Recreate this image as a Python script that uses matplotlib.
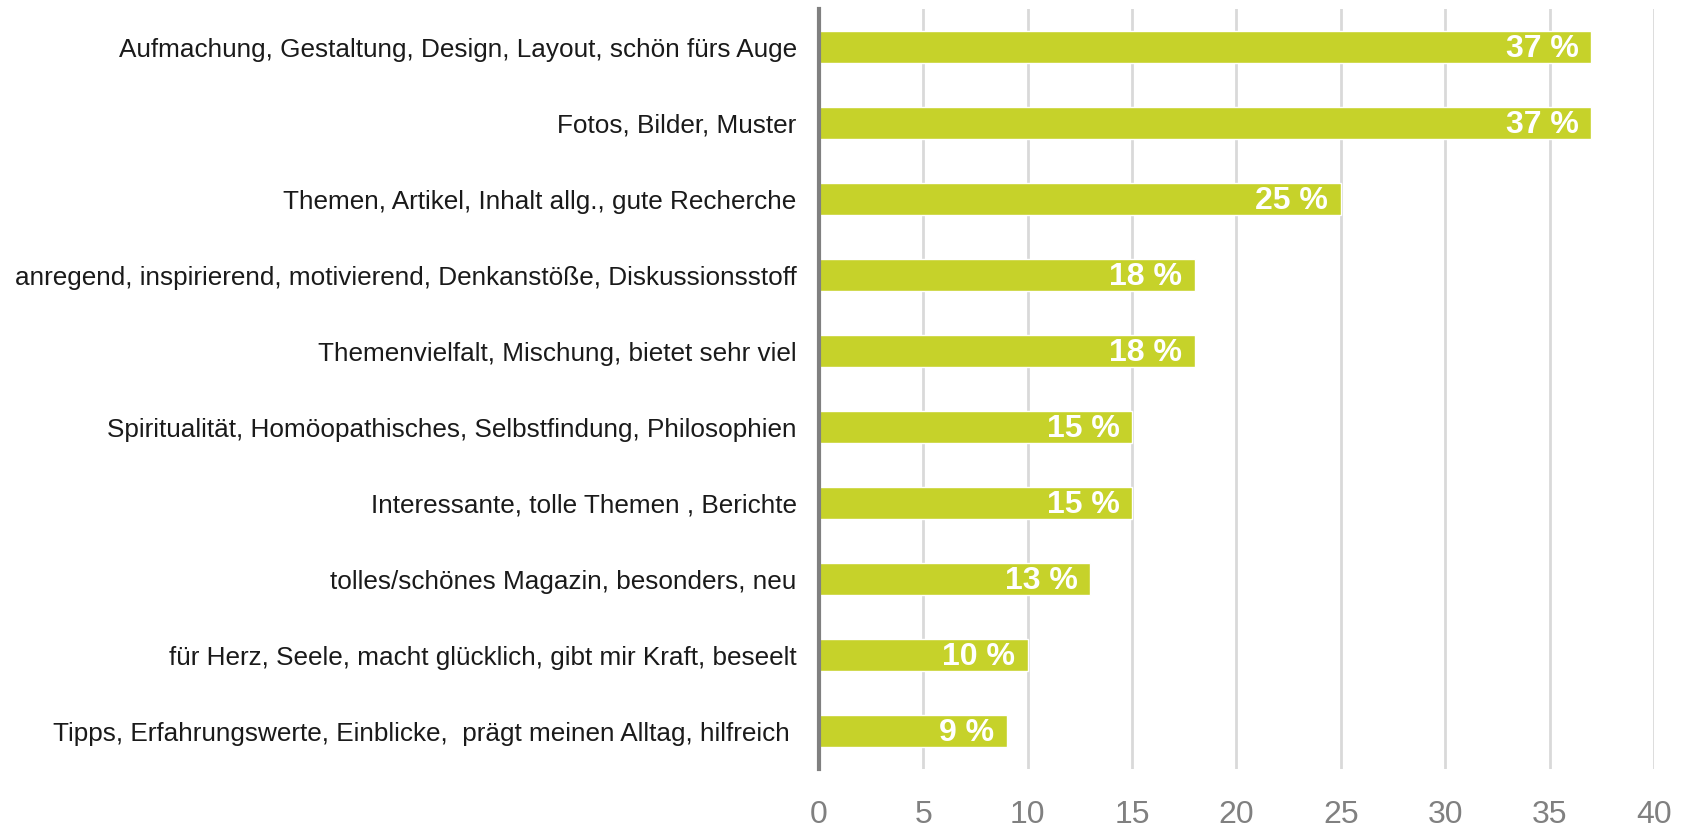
import matplotlib.pyplot as plt
from matplotlib import font_manager

# Kategorien und Werte (Prozent)
kategorien = [
    "Aufmachung, Gestaltung, Design, Layout, schön fürs Auge",
    "Fotos, Bilder, Muster",
    "Themen, Artikel, Inhalt allg., gute Recherche",
    "anregend, inspirierend, motivierend, Denkanstöße, Diskussionsstoff",
    "Themenvielfalt, Mischung, bietet sehr viel",
    "Spiritualität, Homöopathisches, Selbstfindung, Philosophien",
    "Interessante, tolle Themen , Berichte",
    "tolles/schönes Magazin, besonders, neu",
    "für Herz, Seele, macht glücklich, gibt mir Kraft, beseelt",
    "Tipps, Erfahrungswerte, Einblicke,  prägt meinen Alltag, hilfreich ",
]
werte = [37, 37, 25, 18, 18, 15, 15, 13, 10, 9]
x_ticks = [0, 5, 10, 15, 20, 25, 30, 35, 40]

namen = {f.name for f in font_manager.fontManager.ttflist}
schrift = "Liberation Sans Narrow" if "Liberation Sans Narrow" in namen else "Liberation Sans"

fig = plt.figure(figsize=(16.85, 8.31), dpi=100)
ax = fig.add_axes([0.486, 0.0746, 0.4956, 0.9144])

pos = list(range(len(werte)))
ax.barh(pos, werte, height=0.42, color="#c6d22a", edgecolor="white", linewidth=1.0, zorder=3)

for p, w in zip(pos, werte):
    ax.text(w - 0.6, p + 0.03, f"{w} %", ha="right", va="center", color="white",
            fontsize=23, fontweight="bold", family="Liberation Sans", zorder=4)

ax.set_xlim(0, 40)
ax.set_ylim(9.5, -0.5)
ax.set_xticks(x_ticks)
ax.set_yticks(pos)
ax.set_yticklabels(kategorien, fontsize=18.8, family=schrift, color="#1a1a1a")
ax.tick_params(axis="y", length=0, pad=16)
ax.tick_params(axis="x", length=0, pad=22, labelsize=23, labelcolor="#808080")
for t in ax.get_xticklabels():
    t.set_family(schrift)

ax.grid(axis="x", color="#d9d9d9", linewidth=2, zorder=0)
for s in ["top", "right", "bottom"]:
    ax.spines[s].set_visible(False)
ax.spines["left"].set_color("#808080")
ax.spines["left"].set_linewidth(3)
ax.spines["left"].set_zorder(5)

fig.savefig("out.png", dpi=100)
